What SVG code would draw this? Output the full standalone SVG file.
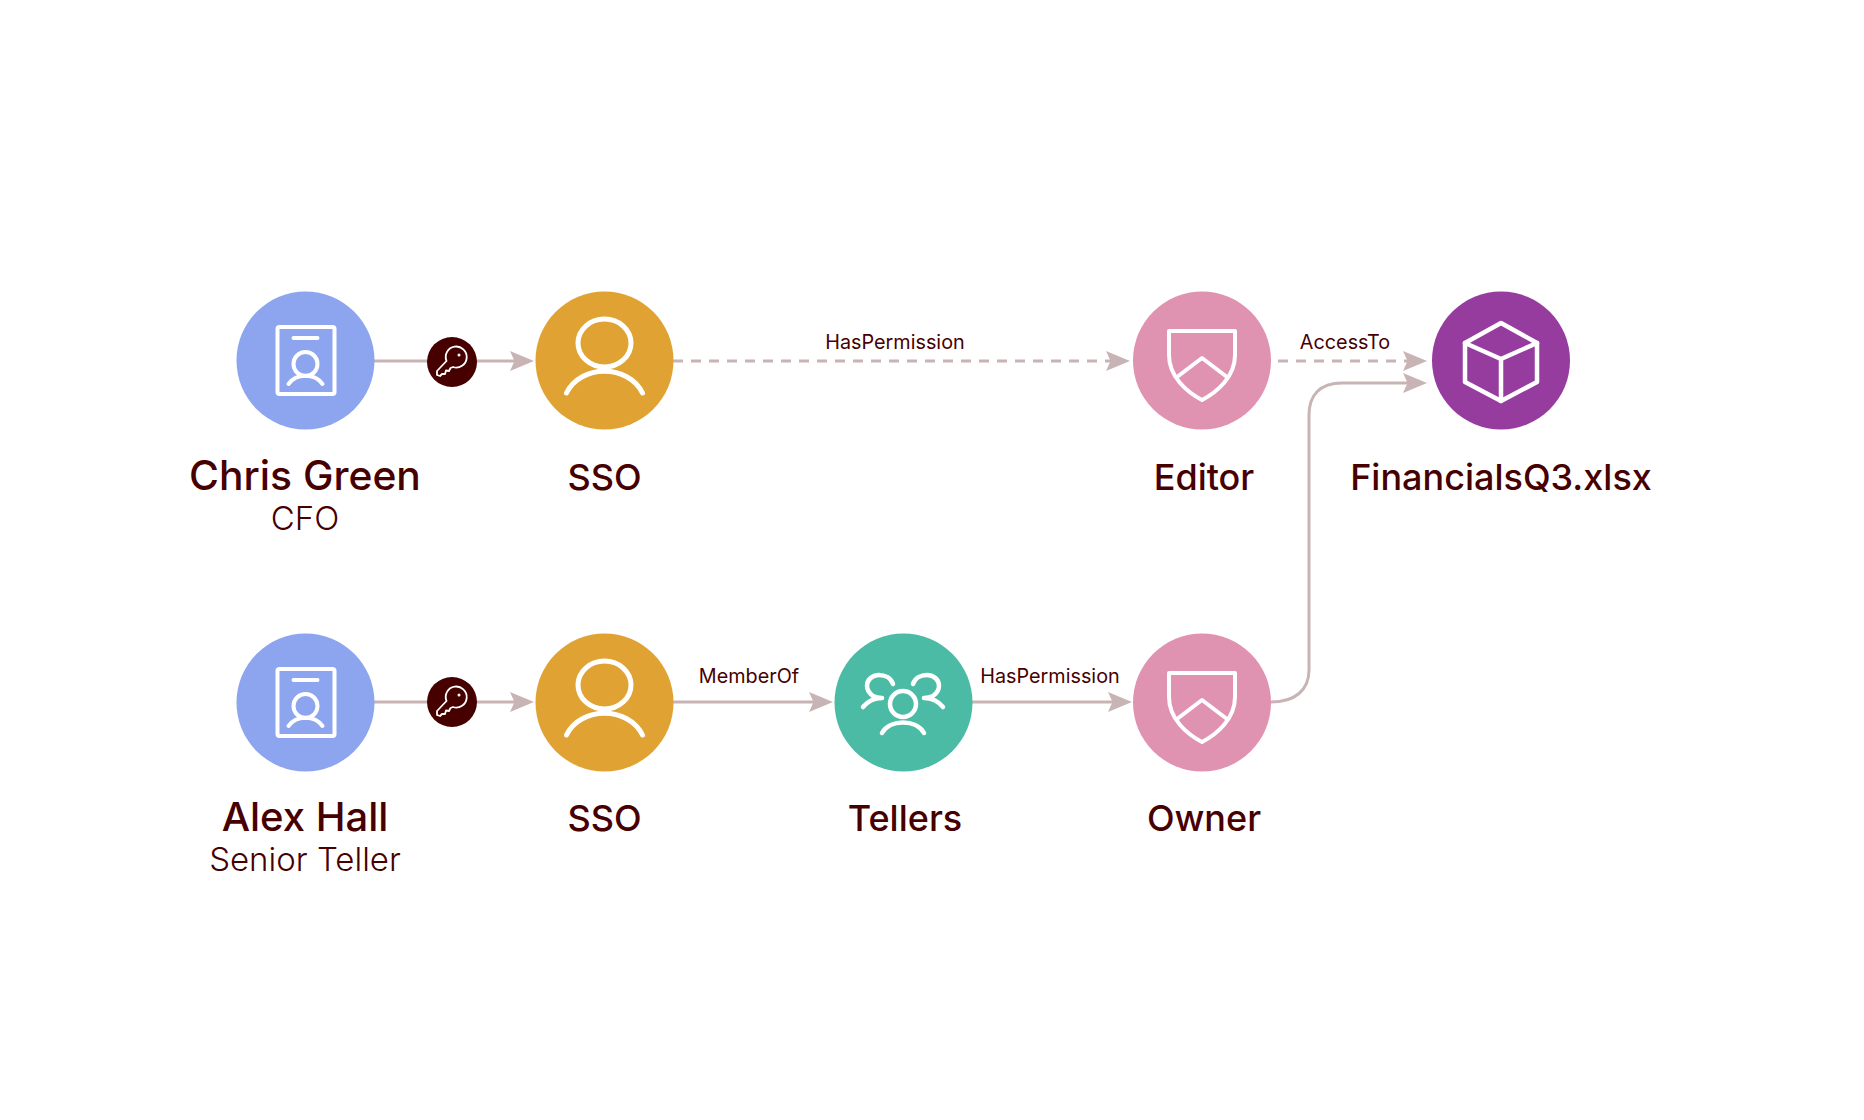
<svg xmlns="http://www.w3.org/2000/svg" width="1864" height="1120" viewBox="0 0 1864 1120">
<style>
.bg{fill:#fff}
.conn{fill:none;stroke:#c8b4b4;stroke-width:3}
.dash{stroke-dasharray:10 8}
.ic{fill:none;stroke:#fff;stroke-width:4.5;stroke-linecap:round;stroke-linejoin:round}
.big{font-family:"Inter","Liberation Sans",sans-serif;font-size:36px;font-weight:500;fill:#470000;text-anchor:middle}
.name{font-size:40.8px}
.sub{font-family:"Inter","Liberation Sans",sans-serif;font-size:33px;font-weight:300;fill:#470000;text-anchor:middle}
.lab{font-family:"Inter","Liberation Sans",sans-serif;font-size:19.800px;font-weight:400;fill:#470000;text-anchor:middle}
</style>
<defs>
<marker id="arr" markerUnits="userSpaceOnUse" markerWidth="26" markerHeight="24" refX="10" refY="12" orient="auto"><path d="M0 2 L24 12 L0 22 L4.500 12 Z" fill="#c8b4b4"/></marker>
<g id="badge" class="ic" style="stroke-width:4"><rect x="-28" y="-33" width="57" height="67" rx="2"/><path d="M-12 -22H12"/><circle cx="0" cy="4" r="12"/><path d="M-17 24C-9 13 9 13 17 24"/></g>
<g id="user" class="ic" style="stroke-width:5"><ellipse cx="0" cy="-17" rx="26.500" ry="24"/><path d="M-38 33C-24 4 24 4 38 33"/></g>
<g id="shield" class="ic" style="stroke-width:4"><path d="M-33 -29H33V-5C33 17 15 32 0 40C-15 32 -33 17 -33 -5Z"/><path d="M-25 17L0 -2L25 17"/></g>
<g id="key"><circle r="25" fill="#470000"/><path d="M-5.500 -1A10.500 10.500 0 1 1 1 5L-1.500 6L-3 9L-6 8.500L-7 12L-10 12L-12 14L-15 13L-15 9Z" fill="none" stroke="#fff" stroke-width="1.800" stroke-linejoin="round"/><circle cx="7" cy="-7" r="1.500" fill="#fff"/></g>
</defs>
<rect class="bg" width="1864" height="1120"/>
<g id="connectors">
<path class="conn" d="M374 361H520" marker-end="url(#arr)"/>
<path class="conn dash" d="M673 361H1116" marker-end="url(#arr)"/>
<path class="conn dash" d="M1278 361H1413" marker-end="url(#arr)"/>
<path class="conn" d="M374 702H520" marker-end="url(#arr)"/>
<path class="conn" d="M673 702H819" marker-end="url(#arr)"/>
<path class="conn" d="M972 702H1118" marker-end="url(#arr)"/>
<path class="conn" d="M1271 702C1295 702 1309 690 1309 670V415C1309 395 1320 383 1342 383H1413" marker-end="url(#arr)"/>
</g>
<g id="key1" transform="translate(452 362)"><use href="#key"/></g>
<g id="key2" transform="translate(452 702)"><use href="#key"/></g>
<g id="n-chris"><circle cx="305.500" cy="360.500" r="69" fill="#8ca5ee"/><use href="#badge" x="305.500" y="360"/><text class="big name" x="305" y="490">Chris Green</text><text class="sub" x="305" y="530">CFO</text></g>
<g id="n-sso1"><circle cx="604.500" cy="360.500" r="69" fill="#e0a333"/><use href="#user" x="604.500" y="360"/><text class="big" x="604.500" y="490">SSO</text></g>
<g id="n-editor"><circle cx="1202" cy="360.500" r="69" fill="#e093b0"/><use href="#shield" x="1202" y="360"/><text class="big" x="1204" y="490">Editor</text></g>
<g id="n-file"><circle cx="1501" cy="360.500" r="69" fill="#963c9f"/><g class="ic"><path d="M1501 323L1537 343V382L1501 401L1465 382V343Z"/><path d="M1465 343L1501 359L1537 343M1501 359V401"/></g><text class="big" x="1501" y="490">FinancialsQ3.xlsx</text></g>
<g id="n-alex"><circle cx="305.500" cy="702.500" r="69" fill="#8ca5ee"/><use href="#badge" x="305.500" y="702"/><text class="big name" x="305" y="831" style="font-size:40px">Alex Hall</text><text class="sub" x="305" y="871">Senior Teller</text></g>
<g id="n-sso2"><circle cx="604.500" cy="702.500" r="69" fill="#e0a333"/><use href="#user" x="604.500" y="702"/><text class="big" x="604.500" y="831">SSO</text></g>
<g id="n-tellers"><circle cx="903.500" cy="702.500" r="69" fill="#4cbba5"/><g class="ic"><circle cx="903" cy="704" r="13"/><path d="M882 733C890 719 916 719 924 733"/><path d="M893 684C891 678 885 675 879 675C872 675 867 680 867 686C867 690 869 693 873 696C875 697 878 698 882 698C874 698 868 701 863 707"/><path d="M913 684C915 678 921 675 927 675C934 675 939 680 939 686C939 690 937 693 933 696C931 697 928 698 924 698C932 698 938 701 943 707"/></g><text class="big" x="905" y="831">Tellers</text></g>
<g id="n-owner"><circle cx="1202" cy="702.500" r="69" fill="#e093b0"/><use href="#shield" x="1202" y="702"/><text class="big" x="1204" y="831">Owner</text></g>
<g id="labels">
<text class="lab" x="895" y="349">HasPermission</text>
<text class="lab" x="1345" y="349">AccessTo</text>
<text class="lab" x="749" y="683">MemberOf</text>
<text class="lab" x="1050" y="683">HasPermission</text>
</g>
</svg>
